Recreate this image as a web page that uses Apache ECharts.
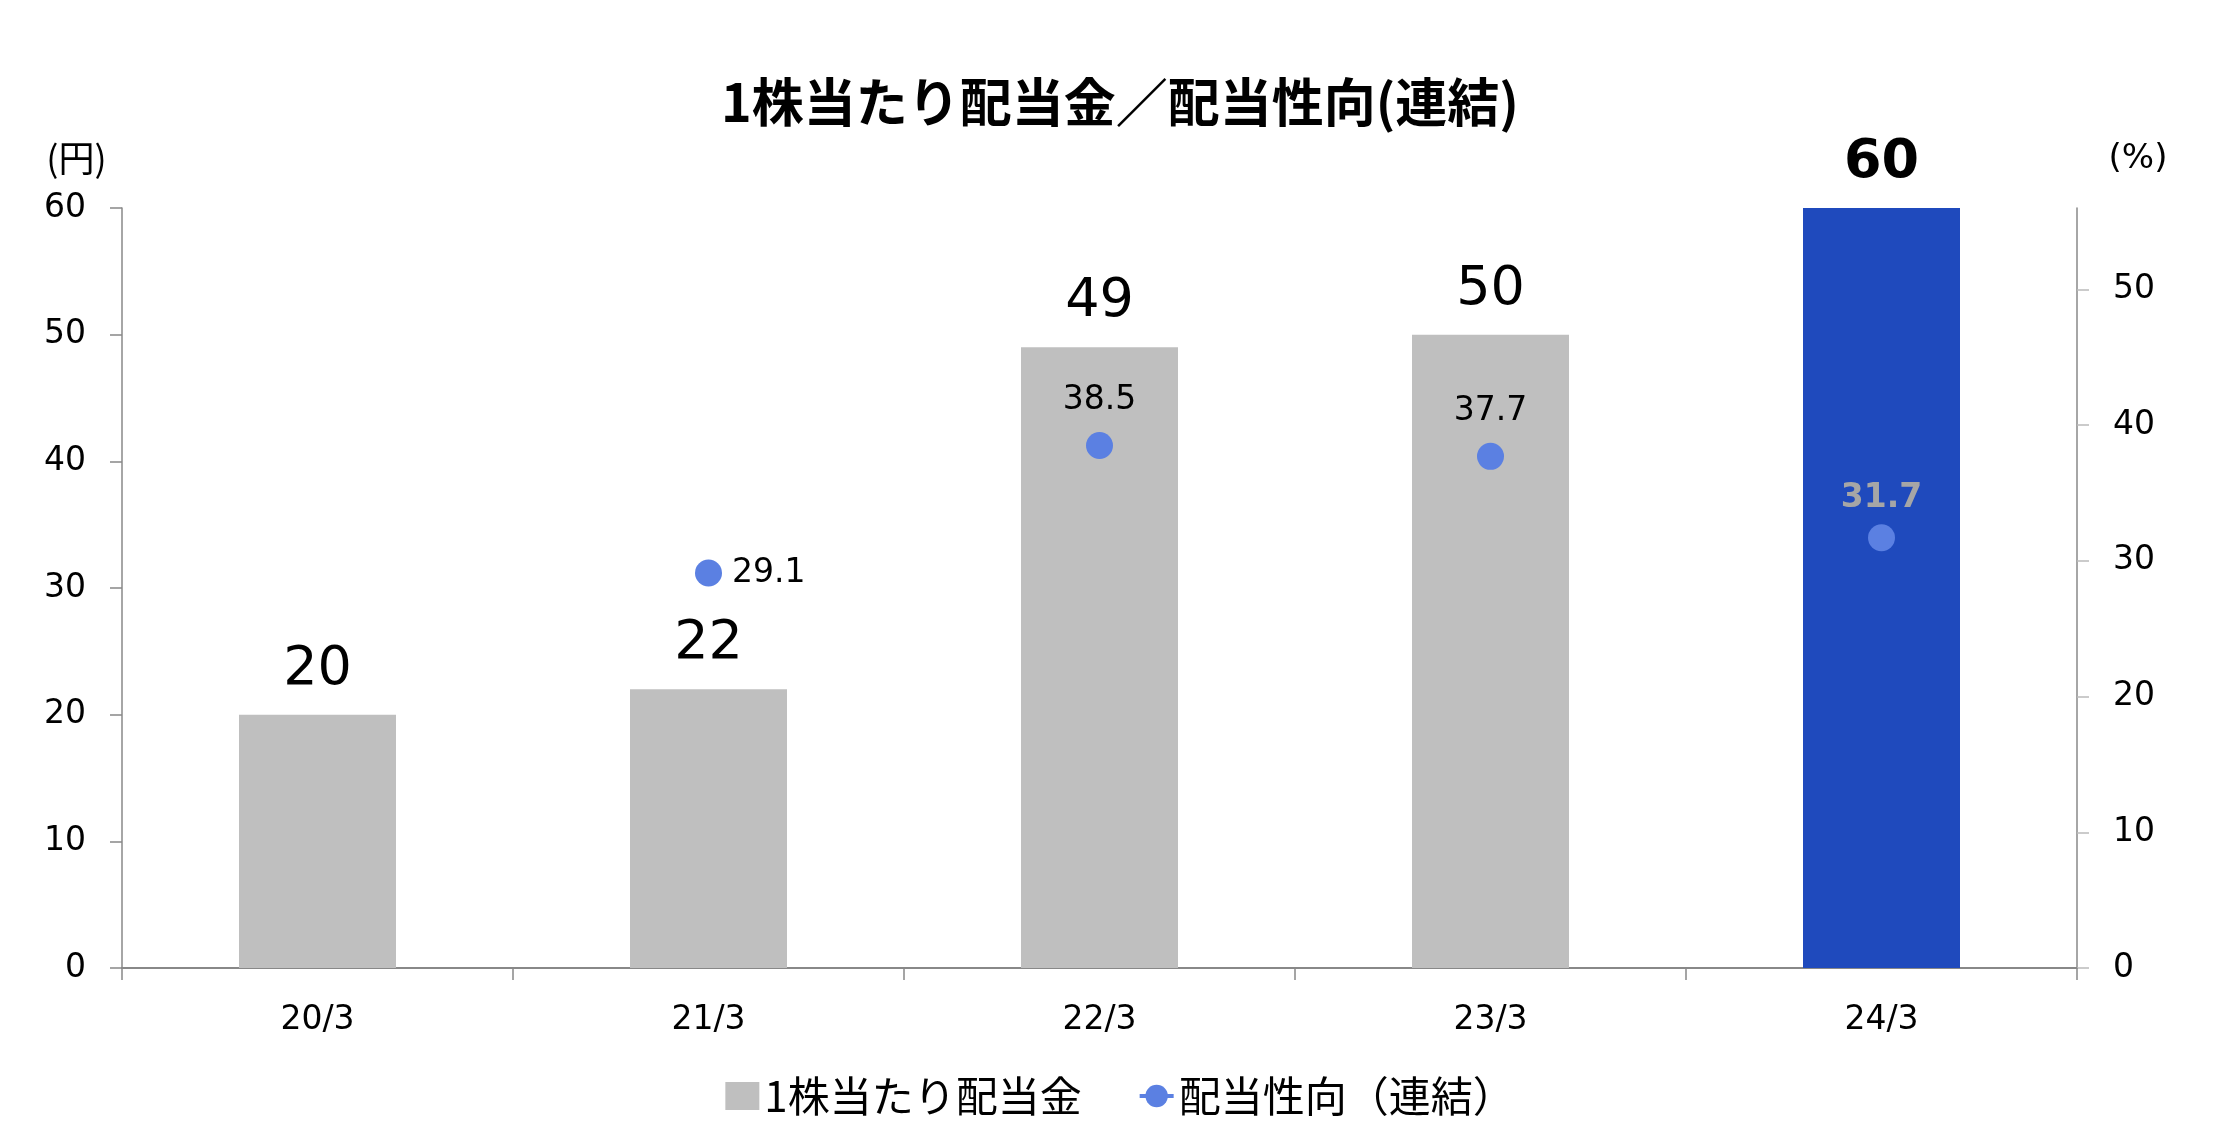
<!DOCTYPE html>
<html>
<head>
<meta charset="utf-8">
<script src="https://cdn.jsdelivr.net/npm/echarts@6/dist/echarts.min.js"></script>
<style>
html,body{margin:0;padding:0;background:#fff;}
#main{width:2240px;height:1140px;}
</style>
</head>
<body>
<div id="main"></div>
<script>
// データ
let years = ['20/3', '21/3', '22/3', '23/3', '24/3'];
let dividend = [20, 22, 49, 50, 60];
let payout = [null, 29.1, 38.5, 37.7, 31.7];
let leftTicks = [0, 10, 20, 30, 40, 50, 60];
let rightTicks = [0, 10, 20, 30, 40, 50];

let numFont = '"DejaVu Sans", "Noto Sans CJK JP", sans-serif';
let jpFont = '"Noto Sans CJK JP", sans-serif';

window.addEventListener('load', function () {
    let chart = echarts.init(document.getElementById('main'));

    // 最後の年だけ色と太字を変える
    let barData = dividend.map(function (v, i) {
        if (i === dividend.length - 1) {
            return {
                value: v,
                itemStyle: {color: '#1f4abd'},
                label: {fontWeight: 'bold'}
            };
        }
        return v;
    });
    let lineData = payout.map(function (v, i) {
        if (i === 1) {
            return {value: v, label: {position: 'right', distance: 10}};
        }
        if (i === payout.length - 1) {
            return {value: v, label: {color: '#a6a6a6', fontWeight: 'bold', distance: 9}};
        }
        return v;
    });

    let option = {
        animation: false,
        title: {
            text: '1株当たり配当金／配当性向(連結)',
            left: 'center',
            top: 76,
            padding: 0,
            textStyle: {fontFamily: jpFont, fontSize: 52, fontWeight: 'bold', color: '#000'}
        },
        legend: {
            bottom: 18,
            left: 'center',
            itemWidth: 34,
            itemHeight: 28,
            itemGap: 56,
            textStyle: {fontFamily: jpFont, fontSize: 42, color: '#000'},
            data: [
                {name: '1株当たり配当金', icon: 'rect', itemStyle: {color: '#bfbfbf'}},
                {name: '配当性向（連結）', lineStyle: {width: 4, color: '#5b80e2', opacity: 1}}
            ]
        },
        grid: {left: 122, right: 163, top: 208, bottom: 172},
        xAxis: {
            type: 'category',
            data: years,
            axisLine: {lineStyle: {color: '#888', width: 2}},
            axisTick: {show: true, length: 12, lineStyle: {color: '#888', width: 1.5}},
            axisLabel: {fontFamily: numFont, fontSize: 33, color: '#000', margin: 36}
        },
        yAxis: [
            {
                type: 'value',
                min: 0,
                max: 60,
                interval: 10,
                name: '(円)',
                nameLocation: 'end',
                nameGap: 32,
                nameTextStyle: {fontFamily: jpFont, fontSize: 36, color: '#000', align: 'center', padding: [0, 91, 0, 0]},
                axisLine: {show: true, lineStyle: {color: '#888', width: 1.5}},
                axisTick: {show: true, length: 12, lineStyle: {color: '#888', width: 1.5}},
                axisLabel: {fontFamily: numFont, fontSize: 33, color: '#000', margin: 36, customValues: leftTicks},
                splitLine: {show: false}
            },
            {
                type: 'value',
                min: 0,
                max: 56,
                interval: 10,
                name: '(%)',
                nameLocation: 'end',
                nameGap: 32,
                nameTextStyle: {fontFamily: numFont, fontSize: 34, color: '#000', align: 'center', padding: [0, 0, 0, 122]},
                axisLine: {show: true, lineStyle: {color: '#888', width: 1.5}},
                axisTick: {show: true, length: 12, lineStyle: {color: '#bbb', width: 1.5}, customValues: rightTicks},
                axisLabel: {fontFamily: numFont, fontSize: 33, color: '#000', margin: 36, customValues: rightTicks},
                splitLine: {show: false}
            }
        ],
        series: [
            {
                name: '1株当たり配当金',
                type: 'bar',
                barWidth: 157,
                itemStyle: {color: '#bfbfbf'},
                label: {
                    show: true,
                    position: 'top',
                    distance: 18,
                    fontFamily: numFont,
                    fontSize: 54,
                    color: '#000'
                },
                data: barData
            },
            {
                name: '配当性向（連結）',
                type: 'line',
                yAxisIndex: 1,
                symbol: 'circle',
                symbolSize: 27,
                lineStyle: {opacity: 0},
                itemStyle: {color: '#5b80e2'},
                label: {
                    show: true,
                    position: 'top',
                    distance: 15,
                    fontFamily: numFont,
                    fontSize: 33,
                    color: '#000'
                },
                data: lineData
            }
        ]
    };
    chart.setOption(option);
});
</script>
</body>
</html>
